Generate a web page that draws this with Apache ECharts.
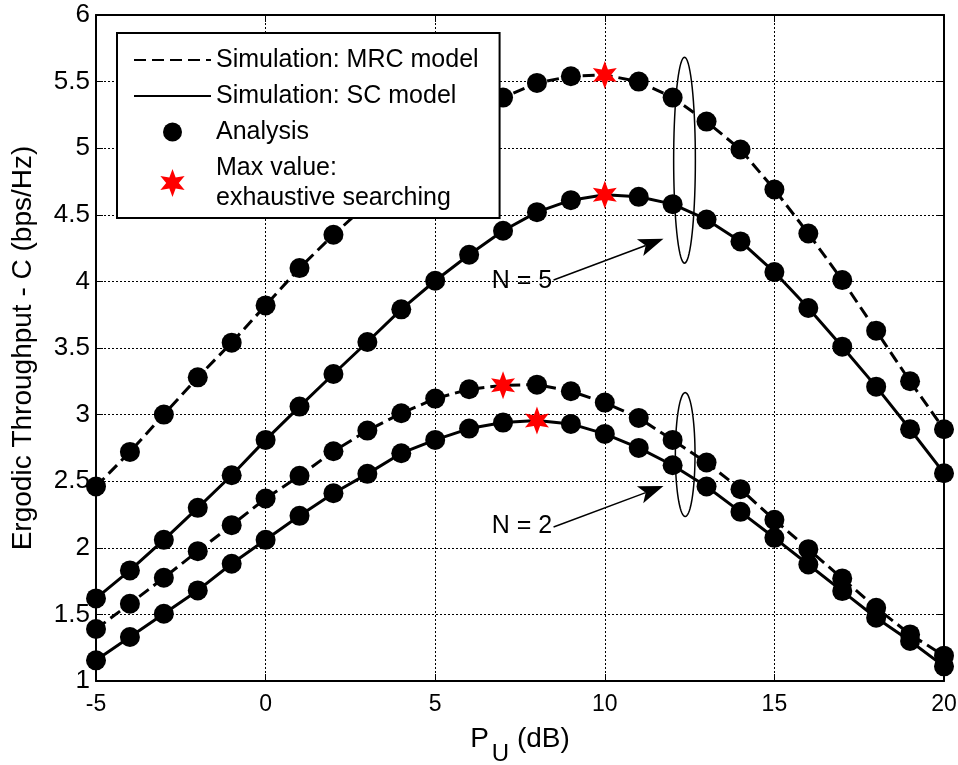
<!DOCTYPE html>
<html>
<head>
<meta charset="utf-8">
<script src="https://cdn.jsdelivr.net/npm/echarts@6/dist/echarts.min.js"></script>
<style>
html,body{margin:0;padding:0;background:#fff;}
#chart{width:958px;height:765px;}
</style>
</head>
<body>
<div id="chart"></div>
<script>
// ---- data ----
const xValues = [-5,-4,-3,-2,-1,0,1,2,3,4,5,6,7,8,9,10,11,12,13,14,15,16,17,18,19,20];
const mrcN5 = [2.46,2.72,3.00,3.28,3.54,3.82,4.10,4.35,4.58,4.82,5.02,5.21,5.38,5.49,5.54,5.55,5.50,5.38,5.20,4.99,4.69,4.36,4.01,3.63,3.25,2.89];
const scN5  = [1.62,1.83,2.06,2.30,2.545,2.81,3.06,3.305,3.545,3.79,4.005,4.20,4.38,4.52,4.61,4.65,4.635,4.58,4.465,4.30,4.07,3.80,3.51,3.21,2.89,2.56];
const mrcN2 = [1.39,1.58,1.775,1.975,2.17,2.37,2.54,2.725,2.88,3.01,3.12,3.19,3.22,3.225,3.175,3.09,2.975,2.81,2.64,2.44,2.21,1.99,1.77,1.55,1.35,1.19];
const scN2  = [1.155,1.33,1.505,1.68,1.88,2.06,2.24,2.41,2.555,2.71,2.81,2.895,2.94,2.955,2.93,2.855,2.75,2.62,2.46,2.27,2.075,1.875,1.675,1.475,1.30,1.11];
// x positions of the max values (exhaustive search) for each curve
const maxXmrcN5 = 10, maxXscN5 = 10, maxXmrcN2 = 7, maxXscN2 = 8;
const xTicks = [-5,0,5,10,15,20];
const yTicks = [1,1.5,2,2.5,3,3.5,4,4.5,5,5.5,6];
const legendNames = ['Simulation: MRC model','Simulation: SC model','Analysis','Max value:\nexhaustive searching'];
const groupLabels = ['N = 5','N = 2'];

// ---- build ----
const FONT = 'Liberation Sans, Arial, Helvetica, sans-serif';
const pairs = arr => xValues.map((x,i)=>[x,arr[i]]);
const curves = [
  {name: legendNames[0], data: mrcN5, dash: true, maxX: maxXmrcN5},
  {name: legendNames[1], data: scN5, dash: false, maxX: maxXscN5},
  {name: legendNames[0], data: mrcN2, dash: true, maxX: maxXmrcN2},
  {name: legendNames[1], data: scN2, dash: false, maxX: maxXscN2}
];
const analysisPts = [];
const maxPts = [];
curves.forEach(c=>{
  xValues.forEach((x,i)=>{
    if (x === c.maxX) maxPts.push([x, c.data[i]]);
    else analysisPts.push([x, c.data[i]]);
  });
});
const STAR = 'path://M0,-10 L2.25,-3.9 L8.66,-5 L4.5,0 L8.66,5 L2.25,3.9 L0,10 L-2.25,3.9 L-8.66,5 L-4.5,0 L-8.66,-5 L-2.25,-3.9 Z';
// legend-only circle icon, padded so that it stays ~19px inside a 28px legend item
const LEGEND_DOT = 'path://M-14,-14 L-14,-14 M14,14 L14,14 M-9.5,0 A9.5,9.5 0 1 1 9.5,0 A9.5,9.5 0 1 1 -9.5,0 Z';

const series = curves.map(c=>({
  type:'line', name:c.name, data:pairs(c.data), symbol:'none', smooth:false,
  lineStyle:{color:'#000', width:3, type: c.dash ? [12,6] : 'solid'},
  itemStyle:{color:'rgba(0,0,0,0)'}, z:2, clip:false
}));
series.push({type:'scatter', name:legendNames[2], data:analysisPts, symbol:'circle', symbolSize:20,
  itemStyle:{color:'#000', opacity:1}, z:3, clip:false});
series.push({type:'scatter', name:legendNames[3], data:maxPts, symbol:STAR, symbolSize:[24,28],
  itemStyle:{color:'#ff0000', opacity:1}, z:4, clip:false});

const xMin = xTicks[0], xMax = xTicks[xTicks.length-1], xInt = xTicks[1]-xTicks[0];
const yMin = yTicks[0], yMax = yTicks[yTicks.length-1], yInt = yTicks[1]-yTicks[0];

const axisCommon = {
  axisLine:{show:true, onZero:false, lineStyle:{color:'#000', width:2}},
  axisTick:{show:true, inside:true, length:7, lineStyle:{color:'#000', width:1}},
};

const chart = echarts.init(document.getElementById('chart'), null, {renderer:'canvas'});
chart.setOption({
  backgroundColor:'#fff',
  animation:false,
  grid:{left:96, right:14, top:15, bottom:84, containLabel:false, outerBoundsMode:'none'},
  legend:{
    data: [
      {name:legendNames[0]},
      {name:legendNames[1]},
      {name:legendNames[2], icon:LEGEND_DOT},
      {name:legendNames[3]}
    ],
    left:117, top:33, orient:'vertical', selectedMode:false,
    itemWidth:77, itemHeight:28, itemGap:6,
    padding:[12,21,5,16],
    backgroundColor:'#fff', borderColor:'#000', borderWidth:2,
    textStyle:{fontFamily:FONT, fontSize:25, color:'#000', lineHeight:30}
  },
  xAxis:[
    Object.assign({type:'value', min:xMin, max:xMax, interval:xInt, position:'bottom',
      name:'{p|P}{s|U}{p| (dB)}', nameLocation:'middle', nameGap:44,
      nameTextStyle:{rich:{p:{fontFamily:FONT, fontSize:28, color:'#000', verticalAlign:'top'}, s:{fontFamily:FONT, fontSize:24, color:'#000', padding:[17,0,0,3], verticalAlign:'top'}}},
      axisLabel:{fontFamily:FONT, fontSize:23, color:'#000', margin:12},
      splitLine:{show:true, lineStyle:{color:'#000', width:1, type:[2,2]}}}, axisCommon),
    Object.assign({type:'value', min:xMin, max:xMax, interval:xInt, position:'top',
      axisLabel:{show:false}, splitLine:{show:false}}, axisCommon)
  ],
  yAxis:[
    Object.assign({type:'value', min:yMin, max:yMax, interval:yInt, position:'left',
      name:'Ergodic Throughput - C (bps/Hz)', nameLocation:'middle', nameGap:59, nameRotate:90,
      nameTextStyle:{fontFamily:FONT, fontSize:28, color:'#000'},
      axisLabel:{fontFamily:FONT, fontSize:26, color:'#000', margin:6},
      splitLine:{show:true, lineStyle:{color:'#000', width:1, type:[2,2]}}}, axisCommon),
    Object.assign({type:'value', min:yMin, max:yMax, interval:yInt, position:'right',
      axisLabel:{show:false}, splitLine:{show:false}}, axisCommon)
  ],
  series: series
});

// ---- annotations (placed in data coordinates) ----
const annotations = [
  {label:groupLabels[0], ellipse:{x:12.35, y:4.91, rx:0.32, ry:0.773}, tail:[8.49,4.01], head:[11.73,4.32], text:[8.45,4.0]},
  {label:groupLabels[1], ellipse:{x:12.37, y:2.70, rx:0.29, ry:0.465}, tail:[8.49,2.156], head:[11.73,2.464], text:[8.45,2.16]}
];
const px = p => chart.convertToPixel({xAxisIndex:0, yAxisIndex:0}, p);
const graphics = [];
annotations.forEach(a=>{
  const c = px([a.ellipse.x, a.ellipse.y]);
  const e1 = px([a.ellipse.x + a.ellipse.rx, a.ellipse.y + a.ellipse.ry]);
  const rx = Math.abs(e1[0]-c[0]), ry = Math.abs(e1[1]-c[1]);
  const pts = [];
  for (let k=0;k<=72;k++){ const t=k/72*Math.PI*2; pts.push([c[0]+rx*Math.cos(t), c[1]+ry*Math.sin(t)]); }
  graphics.push({type:'polyline', shape:{points:pts}, style:{stroke:'#000', lineWidth:1.5, fill:null}, z:10});
  const t = px(a.tail), h = px(a.head);
  const dx = h[0]-t[0], dy = h[1]-t[1], L = Math.hypot(dx,dy), ux = dx/L, uy = dy/L;
  const back = 25, notch = 19, hw = 9;
  const bx = h[0]-ux*back, by = h[1]-uy*back;
  graphics.push({type:'line', shape:{x1:t[0], y1:t[1], x2:h[0]-ux*notch, y2:h[1]-uy*notch}, style:{stroke:'#000', lineWidth:1.5}, z:10});
  graphics.push({type:'polygon', shape:{points:[[h[0],h[1]],[bx-uy*hw, by+ux*hw],[h[0]-ux*notch, h[1]-uy*notch],[bx+uy*hw, by-ux*hw]]}, style:{fill:'#000'}, z:10});
  const tp = px(a.text);
  graphics.push({type:'text', x:tp[0], y:tp[1], style:{text:a.label, fontFamily:FONT, fontSize:25, fill:'#000', align:'right', verticalAlign:'middle'}, z:10});
});
chart.setOption({graphic:graphics});
</script>
</body>
</html>
